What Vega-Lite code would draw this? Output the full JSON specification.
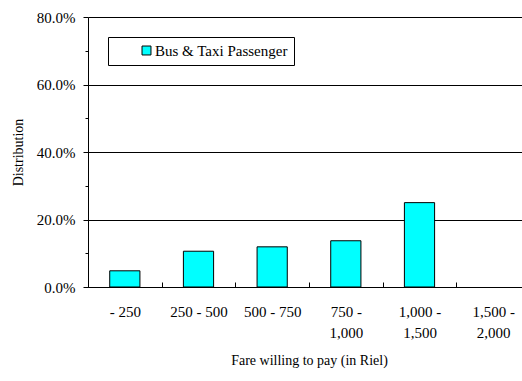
{
  "$schema": "https://vega.github.io/schema/vega-lite/v6.json",
  "width": 442,
  "height": 270,
  "autosize": {"type": "none"},
  "padding": {"left": 88, "top": 17, "right": 0, "bottom": 94},
  "background": "white",
  "config": {
    "view": {"stroke": null},
    "font": "Liberation Serif",
    "axis": {"labelFont": "Liberation Serif", "titleFont": "Liberation Serif"},
    "legend": {"labelFont": "Liberation Serif", "titleFont": "Liberation Serif"}
  },
  "data": {
    "values": [
      {"fare": "- 250", "share": 0.048, "group": "Bus & Taxi Passenger"},
      {"fare": "250 - 500", "share": 0.106, "group": "Bus & Taxi Passenger"},
      {"fare": "500 - 750", "share": 0.119, "group": "Bus & Taxi Passenger"},
      {"fare": "750 - 1,000", "share": 0.137, "group": "Bus & Taxi Passenger"},
      {"fare": "1,000 - 1,500", "share": 0.25, "group": "Bus & Taxi Passenger"},
      {"fare": "1,500 - 2,000", "share": 0.0, "group": "Bus & Taxi Passenger"}
    ]
  },
  "mark": {"type": "bar", "width": {"band": 0.41}, "stroke": "black", "strokeWidth": 1, "cornerRadius": 0},
  "encoding": {
    "x": {
      "field": "fare",
      "type": "nominal",
      "sort": null,
      "scale": {"paddingInner": 0, "paddingOuter": 0},
      "axis": {
        "title": "Fare willing to pay (in Riel)",
        "titleFontSize": 14,
        "titleFontWeight": "normal",
        "titleColor": "black",
        "titlePadding": 13,
        "labelAngle": 0,
        "labelFontSize": 15,
        "labelColor": "black",
        "labelPadding": 22,
        "labelLineHeight": 21,
        "labelBaseline": "top",
        "labelExpr": "length(datum.label) > 9 ? [slice(datum.label, 0, indexof(datum.label, ' - ') + 2), slice(datum.label, indexof(datum.label, ' - ') + 3)] : datum.label",
        "tickBand": "extent",
        "tickSize": -5,
        "tickColor": "black",
        "domainColor": "black",
        "grid": false
      }
    },
    "y": {
      "field": "share",
      "type": "quantitative",
      "scale": {"domain": [0, 0.8]},
      "axis": {
        "title": "Distribution",
        "titleFontSize": 14,
        "titleFontWeight": "normal",
        "titleColor": "black",
        "titlePadding": 11,
        "values": [0, 0.1, 0.2, 0.3, 0.4, 0.5, 0.6, 0.7, 0.8],
        "format": ".1%",
        "labelExpr": "round(datum.value * 10) % 2 == 0 ? datum.label : ''",
        "labelFontSize": 15,
        "labelColor": "black",
        "labelPadding": 8,
        "tickColor": "black",
        "tickSize": {"condition": {"test": "round(datum.value * 10) % 2 == 0", "value": 5}, "value": 3},
        "domainColor": "black",
        "grid": true,
        "gridColor": "black",
        "gridOpacity": {"condition": {"test": "round(datum.value * 10) % 2 == 0", "value": 1}, "value": 0}
      }
    },
    "strokeOpacity": {"condition": {"test": "datum.share == 0", "value": 0}, "value": 1},
    "fill": {
      "field": "group",
      "type": "nominal",
      "scale": {"range": ["#00FFFF"]},
      "legend": {
        "title": null,
        "orient": "none",
        "legendX": 20,
        "legendY": 20,
        "padding": 6,
        "strokeColor": "black",
        "fillColor": "white",
        "symbolType": "square",
        "symbolSize": 80,
        "symbolStrokeColor": "black",
        "symbolStrokeWidth": 1,
        "symbolOffset": 25,
        "labelFontSize": 15,
        "labelColor": "black",
        "labelOffset": 1,
        "labelLimit": 400,
        "labelExpr": "datum.label + '\u00a0\u00a0\u00a0\u00a0\u00a0'"
      }
    }
  }
}
